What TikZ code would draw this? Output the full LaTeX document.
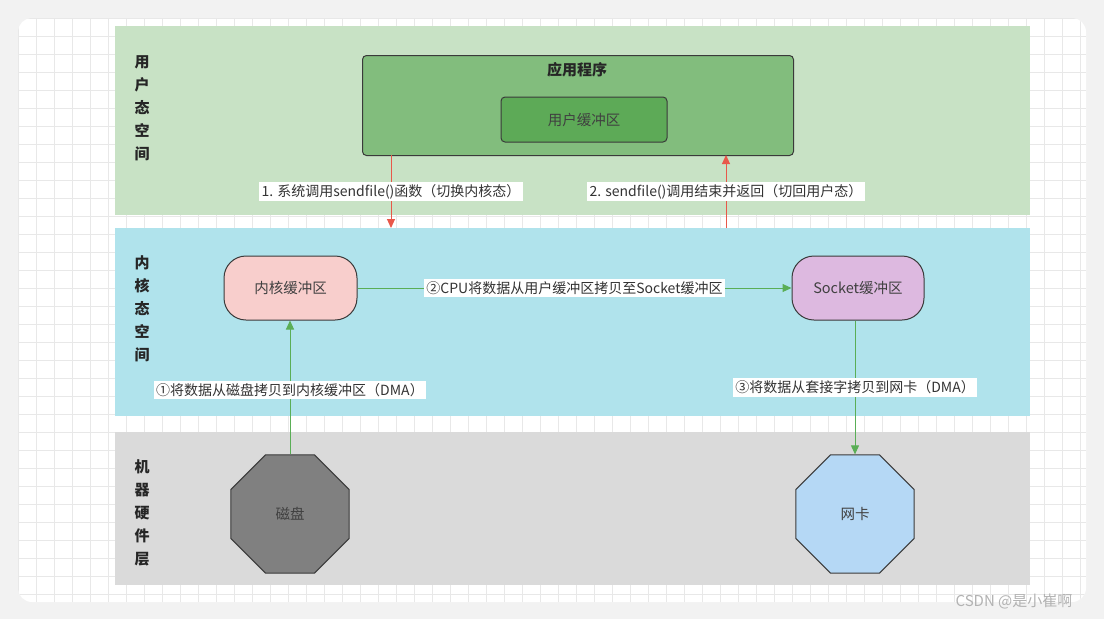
\documentclass[tikz,border=0pt]{standalone}
\usepackage{fontspec}
\setmainfont{Noto Sans CJK SC}
\usetikzlibrary{shapes.geometric,arrows.meta}
\definecolor{bgout}{HTML}{F2F2F2}
\definecolor{gridc}{HTML}{E8E8E8}
\definecolor{ugreen}{HTML}{C8E2C5}
\definecolor{kblue}{HTML}{B0E3EC}
\definecolor{hgray}{HTML}{DADADA}
\definecolor{appg}{HTML}{82BD7D}
\definecolor{bufg}{HTML}{5DAA57}
\definecolor{pinkc}{HTML}{F8CECC}
\definecolor{purpc}{HTML}{DDB9E0}
\definecolor{diskc}{HTML}{808080}
\definecolor{nicc}{HTML}{B5D8F5}
\definecolor{redar}{HTML}{E8584A}
\definecolor{grar}{HTML}{5AAE56}
\definecolor{edgec}{HTML}{3A3A3A}
\tikzset{
  lane/.style={draw=none,anchor=north west,inner sep=0},
  side/.style={font=\bfseries\fontsize{15}{23}\selectfont,align=center,text=black!85},
  rbox/.style={draw=edgec,line width=1pt,rounded corners=22pt,font=\fontsize{14.5}{16}\selectfont,text=black!75},
  oct/.style={regular polygon,regular polygon sides=8,shape border rotate=0,draw=edgec,line width=1pt,minimum size=128pt,font=\fontsize{14.5}{16}\selectfont,text=black!75},
  lab/.style={fill=white,inner sep=2.5pt,font=\fontsize{14}{16}\selectfont,text=black!80},
  rarr/.style={draw=redar,line width=1pt,-{Triangle[length=9pt,width=8pt]}},
  garr/.style={draw=grar,line width=1pt,-{Triangle[length=9pt,width=8pt]}}
}
\begin{document}
\begin{tikzpicture}[x=1pt,y=-1pt]
\fill[bgout] (0,0) rectangle (1104,619);
\useasboundingbox (0,0) rectangle (1104,619);
\fill[white,rounded corners=14pt] (18,18) rectangle (1086,602);
\begin{scope}
\clip[rounded corners=14pt] (18,18) rectangle (1086,602);
\draw[gridc,line width=0.6pt] (18,18) grid[step=18pt] (1086,602);
\end{scope}
\node[lane,fill=ugreen,minimum width=915pt,minimum height=189pt] (ul) at (115,26) {};
\node[lane,fill=kblue,minimum width=915pt,minimum height=188pt] (kl) at (115,228) {};
\node[lane,fill=hgray,minimum width=915pt,minimum height=153pt] (hl) at (115,432) {};
\node[side] (t1) at (142,108) {用\\户\\态\\空\\间};
\node[side] (t2) at (142,309) {内\\核\\态\\空\\间};
\node[side] (t3) at (142,513) {机\\器\\硬\\件\\层};
\node[draw=edgec,fill=appg,line width=1pt,rounded corners=4pt,minimum width=431pt,minimum height=100pt,anchor=north west] (app) at (362,55) {};
\node[font=\bfseries\fontsize{15}{17}\selectfont,text=black!85] (appt) at (577,70) {应用程序};
\node[draw=edgec,fill=bufg,line width=1pt,rounded corners=4pt,minimum width=166pt,minimum height=45pt,font=\fontsize{14.5}{16}\selectfont,text=black!75] (ubuf) at (584,119.5) {用户缓冲区};
\node[rbox,fill=pinkc,minimum width=133pt,minimum height=64pt] (kbuf) at (290.5,288) {内核缓冲区};
\node[rbox,fill=purpc,minimum width=132pt,minimum height=64pt] (sbuf) at (858,288) {Socket缓冲区};
\node[oct,fill=diskc] (disk) at (290,514) {磁盘};
\node[oct,fill=nicc] (nic) at (855,514) {网卡};
\coordinate (a1s) at (391,155);
\coordinate (a1e) at (391,228);
\coordinate (a2s) at (726,228);
\coordinate (a2e) at (726,155);
\draw[rarr] (a1s) -- node[lab,pos=0.5] {1. 系统调用sendfile()函数（切换内核态）} (a1e);
\draw[rarr] (a2s) -- node[lab,pos=0.5] {2. sendfile()调用结束并返回（切回用户态）} (a2e);
\draw[garr] (kbuf) -- node[lab] {②CPU将数据从用户缓冲区拷贝至Socket缓冲区} (sbuf);
\draw[garr] (disk.north) -- node[lab,pos=0.48] {①将数据从磁盘拷贝到内核缓冲区（DMA）} (disk.north |- kbuf.south);
\draw[garr] (nic.north |- sbuf.south) -- node[lab,pos=0.5] {③将数据从套接字拷贝到网卡（DMA）} (nic.north);
\node[font=\fontsize{15}{17}\selectfont,text=black!30] (wm) at (1014,601) {CSDN @是小崔啊};
\end{tikzpicture}
\end{document}
